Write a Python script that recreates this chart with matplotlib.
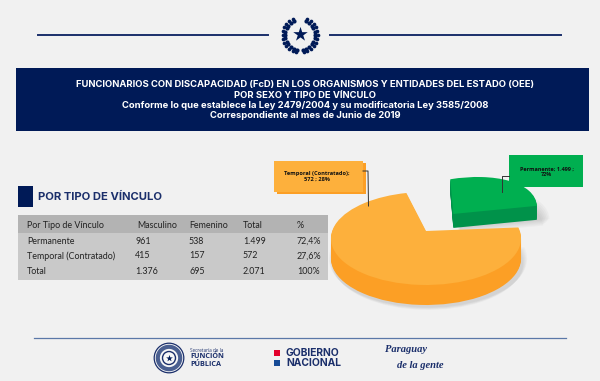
import numpy as np
import matplotlib
matplotlib.use("Agg")
from matplotlib import pyplot as plt
from matplotlib.patches import Rectangle, Circle
from matplotlib.transforms import Transform, Affine2D

title_lines = ["FUNCIONARIOS CON DISCAPACIDAD (FcD) EN LOS ORGANISMOS Y ENTIDADES DEL ESTADO (OEE)",
               "POR SEXO Y TIPO DE VÍNCULO",
               "Conforme lo que establece la Ley 2479/2004 y su modificatoria Ley 3585/2008",
               "Correspondiente al mes de Junio de 2019"]
table_head = ["Por Tipo de Vínculo", "Masculino", "Femenino", "Total", "%"]
table_rows = [["Permanente", "961", "538", "1.499", "72,4%"],
              ["Temporal (Contratado)", "415", "157", "572", "27,6%"],
              ["Total", "1.376", "695", "2.071", "100%"]]
pie_values = [1499, 572]
pie_labels = ["Temporal (Contratado);\n572 ; 28%", "Permanente; 1.499 ;\n72%"]

navy = "#001A57"
blue = "#1B2F6B"
plt.rcParams["font.family"] = ["Open Sans", "DejaVu Sans"]


# tilted view of the pie, so the near side looks bigger than the far side
class Tilt(Transform):
    input_dims = 2
    output_dims = 2

    def __init__(self, cx, cy, grow=0):
        super().__init__()
        self.cx, self.cy, self.grow = cx, cy, grow

    def transform_non_affine(self, xy):
        xy = np.asarray(xy)
        w = 1 + 0.161 * xy[:, 1]
        px = self.cx + (93.8 + self.grow) * xy[:, 0] / w
        py = self.cy - (45.3 + self.grow / 2) * xy[:, 1] / w
        return np.column_stack([px, py])


fig = plt.figure(figsize=(6, 3.81), dpi=100, facecolor="#F1F1F1")
ax = fig.add_axes([0, 0, 1, 1])

# the pulled out slice sits a bit turned compared with the rest of the pie
turn = (Affine2D().translate(-453, -214)
        + Affine2D.from_values(0.947, -0.0554, -0.528, 1.062, 0, 0)
        + Affine2D().translate(453, 214))


def pie_layer(colors, drop=0, grow=0, pulled=False, alpha=None, z=2, dx=0):
    center = (0.31, 0.4) if pulled else (0, 0)
    wedges = ax.pie(pie_values, colors=colors, startangle=104, center=center)[0]
    tr = Tilt(426, 231, grow)
    if pulled:
        tr = tr + turn
    tr = tr + Affine2D().translate(dx, drop) + ax.transData
    for w in wedges:
        w.set_transform(tr)
        w.set_clip_on(False)
        w.set_zorder(z)
        if alpha:
            w.set_alpha(alpha)


# soft shadow under the pie
for i in range(6):
    pie_layer(["#555555", "none"], 20 + i, 4 - i * 0.8, alpha=0.03, z=1, dx=2)
    pie_layer(["none", "#555555"], 15 + i, 6 - i, pulled=True, alpha=0.04, z=1, dx=5)

# green slice pulled out, then orange in front
for d in range(14, 0, -1):
    pie_layer(["none", "#00924A"], d, pulled=True, z=3)
pie_layer(["none", "#00AF50"], pulled=True, z=3)
for d in range(20, 0, -1):
    pie_layer(["#FC9F25", "none"], d, z=4)
pie_layer(["#FDB03C", "none"], z=4)

ax.set_aspect("auto")
ax.set_xlim(0, 600)
ax.set_ylim(381, 0)
ax.axis("off")

# header, wreath is just two rows of leaves round the star
ax.plot([38, 268], [35, 35], color=blue, lw=1.4)
ax.plot([330, 561], [35, 35], color=blue, lw=1.4)
a = np.radians(np.arange(25, 176, 13))
for r, s in [(15, 9), (17.5, 7)]:
    ax.scatter(300 + r * np.sin(a), 35 - r * np.cos(a), s=s, color=navy, lw=0, zorder=5)
    ax.scatter(300 - r * np.sin(a), 35 - r * np.cos(a), s=s, color=navy, lw=0, zorder=5)
ax.scatter([300], [34], marker="*", s=120, color=navy, lw=0, zorder=6)

ax.add_patch(Rectangle((16, 67.5), 573, 63.5, color=navy, lw=0))
for txt, y in zip(title_lines, [84, 95, 105.5, 116]):
    ax.text(305, y, txt, color="white", fontsize=6.8, fontweight="bold", family="Inter", ha="center", va="center")

# table
ax.add_patch(Rectangle((18, 186), 15, 21, color=navy, lw=0))
ax.text(38, 197, "POR TIPO DE VÍNCULO", color=blue, fontsize=8.1, fontweight="bold", family="Inter", va="center")
ax.add_patch(Rectangle((18, 215), 310, 18, color="#B3B3B3", lw=0))
ax.add_patch(Rectangle((18, 233), 310, 47, color="#C9C9C9", lw=0))
col_x = [27, 137, 189, 243, 297]
for x, txt in zip(col_x, table_head):
    ax.text(x, 225, txt, fontsize=6.4, family="Lato", color="#222222", va="center")
col_x[1] = 135
for row, y in zip(table_rows, [241, 256, 271]):
    for x, txt in zip(col_x, row):
        ax.text(x, y, txt, fontsize=6.4, family="Lato", color="#222222", va="center")

# callouts
ax.add_patch(Rectangle((277, 163), 89, 31, color="#FC9F25", lw=0, zorder=5))
ax.add_patch(Rectangle((274, 161), 88.5, 30.5, color="#FDB03C", lw=0, zorder=5))
ax.text(317, 176, pie_labels[0], fontsize=4.1, fontweight="bold", color="#111111", ha="center", va="center", zorder=6)
ax.plot([363, 368, 368.5], [171, 171, 206], color="#333333", lw=0.7, zorder=6)
ax.add_patch(Rectangle((509, 155), 73.5, 31.5, color="#00AF50", lw=0, zorder=5))
ax.text(546.5, 172, pie_labels[1], fontsize=4.0, fontweight="bold", color="#111111", ha="center", va="center", zorder=6)
ax.plot([509, 501.5, 501.5], [176, 176, 192], color="#333333", lw=0.7, zorder=6)

# footer
ax.plot([34, 566], [337.5, 337.5], color="#5B78A8", lw=0.9)
ax.add_patch(Circle((169, 358), 14.8, fc="#F7F7F7", ec=blue, lw=0.9))
ax.add_patch(Circle((169, 358), 11.2, fill=False, ec="#4A5F90", lw=3))
ax.add_patch(Circle((169, 358), 6.5, fill=False, ec=blue, lw=1.0))
ax.scatter([169], [358], marker="*", s=26, color=navy, lw=0, zorder=5)
ax.text(190, 350, "Secretaría de la", fontsize=3.3, color=blue, va="center")
ax.text(190, 356.5, "FUNCIÓN", fontsize=5.2, fontweight="bold", color=blue, va="center")
ax.text(190, 364, "PÚBLICA", fontsize=5.2, fontweight="bold", color=blue, va="center")
ax.add_patch(Rectangle((274, 350), 6, 6, color="#E3002B", lw=0))
ax.add_patch(Rectangle((274, 360), 6, 6, color="#164B96", lw=0))
ax.text(286, 353.5, "GOBIERNO", fontsize=7.4, fontweight="bold", family="Inter", color=blue, va="center")
ax.text(286, 363.5, "NACIONAL", fontsize=7.4, fontweight="bold", family="Inter", color=blue, va="center")
ax.text(385, 350, "Paraguay", fontsize=7.6, style="italic", fontweight="bold", family="Liberation Serif", color=blue, va="center")
ax.text(397, 366, "de la gente", fontsize=7.6, style="italic", fontweight="bold", family="Liberation Serif", color=blue, va="center")

fig.savefig("out.png", dpi=100, facecolor=fig.get_facecolor())
